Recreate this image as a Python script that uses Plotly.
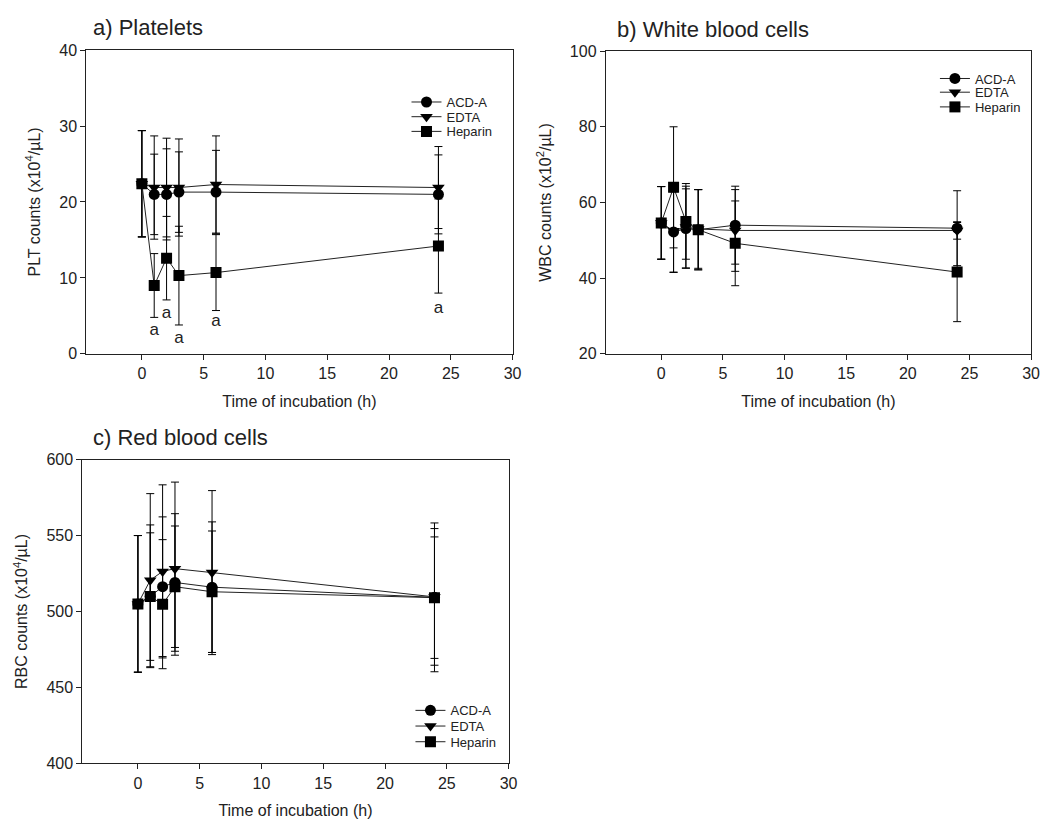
import plotly.graph_objects as go

W, H = 1051, 836

hours = [0, 1, 2, 3, 6, 24]
series_names = ["ACD-A", "EDTA", "Heparin"]
symbols = ["circle", "triangle-down", "square"]

# a) Platelets (x10^4/uL): mean and SD
plt_acd = [22.4, 21.0, 21.0, 21.3, 21.3, 21.0]
plt_acd_sd = [7.0, 5.3, 6.0, 5.3, 5.5, 5.2]
plt_edta = [22.4, 21.9, 21.9, 21.9, 22.3, 21.9]
plt_edta_sd = [7.0, 6.8, 6.5, 6.4, 6.4, 5.4]
plt_hep = [22.4, 9.0, 12.6, 10.3, 10.7, 14.2]
plt_hep_sd = [7.0, 4.2, 5.5, 6.5, 5.0, 6.2]

# b) White blood cells (x10^2/uL)
wbc_acd = [54.6, 52.2, 53.1, 52.8, 54.0, 53.2]
wbc_acd_sd = [9.6, 10.6, 10.5, 10.6, 10.3, 9.9]
wbc_edta = [54.6, 52.5, 53.5, 53.0, 52.6, 52.6]
wbc_edta_sd = [9.6, 11.0, 10.8, 10.4, 10.8, 2.3]
wbc_hep = [54.6, 64.0, 55.0, 52.8, 49.2, 41.6]
wbc_hep_sd = [9.6, 16.0, 10.0, 10.6, 11.2, 13.1]

# c) Red blood cells (x10^4/uL)
rbc_acd = [505, 510, 516.3, 519.1, 516.0, 509.3]
rbc_acd_sd = [45, 47, 46, 45.3, 43, 49]
rbc_edta = [505, 520.6, 526.4, 528.2, 525.6, 509.6]
rbc_edta_sd = [45, 57, 57, 57, 54, 45]
rbc_hep = [505, 509.8, 504.8, 516.3, 513.0, 509.1]
rbc_hep_sd = [45, 42, 42.5, 40, 40, 40]

# significance labels in panel a
sig_hours = [1, 2, 3, 6, 24]
sig_y = [3.0, 5.3, 2.0, 4.2, 6.0]
sig_text = ["a", "a", "a", "a", "a"]

x_ticks = [0, 5, 10, 15, 20, 25, 30]


def px(x):
    return x / W


def py(y):
    return 1 - y / H


FONT = "Arial, Liberation Sans, sans-serif"

panels = [
    ("x", "y", [plt_acd, plt_edta, plt_hep], [plt_acd_sd, plt_edta_sd, plt_hep_sd]),
    ("x2", "y2", [wbc_acd, wbc_edta, wbc_hep], [wbc_acd_sd, wbc_edta_sd, wbc_hep_sd]),
    ("x3", "y3", [rbc_acd, rbc_edta, rbc_hep], [rbc_acd_sd, rbc_edta_sd, rbc_hep_sd]),
]

# legend rows (pixel centres) and left edges for each panel
legend_rows = [[96, 111, 126], [72, 86, 101], [717, 733, 749]]
legend_left = [410, 943, 414]

fig = go.Figure()
k = 0
for p, (xa, ya, means, sds) in enumerate(panels):
    for s in range(3):
        k += 1
        lname = "legend" if k == 1 else f"legend{k}"
        fig.add_trace(go.Scatter(
            x=hours, y=means[s], name=series_names[s],
            xaxis=xa, yaxis=ya, mode="lines+markers",
            line=dict(color="#222222", width=1),
            marker=dict(symbol=symbols[s], size=11, color="black",
                        line=dict(width=0)),
            error_y=dict(type="data", array=sds[s], symmetric=True,
                         color="black", thickness=1, width=4),
            legend=lname, showlegend=True,
        ))

fig.add_trace(go.Scatter(
    x=sig_hours, y=sig_y, text=sig_text, mode="text", xaxis="x", yaxis="y",
    textfont=dict(size=17, color="#222222", family=FONT), showlegend=False,
    hoverinfo="skip",
))

axis_common = dict(
    showline=True, linecolor="#222222", linewidth=1, mirror=True,
    ticks="outside", ticklen=5, tickcolor="#222222", tickwidth=1,
    showgrid=False, zeroline=False,
    tickfont=dict(size=16, color="#222222", family=FONT),
    title_font=dict(size=16, color="#222222", family=FONT),
)

xdomains = [(87, 517), (611, 1040), (83, 513)]
ydomains = [(43, 353), (44, 353), (461, 771)]
yranges = [[0, 40], [20, 100], [400, 600]]
ydticks = [10, 20, 50]
ytitles = ["PLT counts (x10<sup>4</sup>/µL)", "WBC counts (x10<sup>2</sup>/µL)",
           "RBC counts (x10<sup>4</sup>/µL)"]

layout = dict(
    width=W, height=H, margin=dict(l=0, r=0, t=0, b=0),
    paper_bgcolor="white", plot_bgcolor="white",
    font=dict(family=FONT, color="#222222"),
)
for i in range(3):
    suf = "" if i == 0 else str(i + 1)
    xd = xdomains[i]
    yd = ydomains[i]
    layout["xaxis" + suf] = dict(
        axis_common, domain=[px(xd[0]), px(xd[1])], range=[-4.5, 30],
        tickvals=x_ticks, anchor="y" + suf,
        title=dict(text="Time of incubation (h)", standoff=14),
    )
    layout["yaxis" + suf] = dict(
        axis_common, domain=[py(yd[1]), py(yd[0])], range=yranges[i],
        dtick=ydticks[i], tick0=yranges[i][0], anchor="x" + suf,
        title=dict(text=ytitles[i], standoff=14),
    )

k = 0
for p in range(3):
    for s in range(3):
        k += 1
        lname = "legend" if k == 1 else f"legend{k}"
        layout[lname] = dict(
            x=px(legend_left[p]), y=py(legend_rows[p][s]),
            xanchor="left", yanchor="middle",
            bgcolor="rgba(0,0,0,0)", borderwidth=0,
            font=dict(size=13, color="#222222", family=FONT),
            itemwidth=30,
        )

fig.update_layout(**layout)

titles = [("a) Platelets", 92, 20), ("b) White blood cells", 620, 22),
          ("c) Red blood cells", 92, 438)]
for t, x0, y0 in titles:
    fig.add_annotation(text=t, x=px(x0), y=py(y0), xref="paper", yref="paper",
                       xanchor="left", yanchor="middle", showarrow=False,
                       font=dict(size=22, color="#222222", family=FONT))

fig.write_html("out.html")
